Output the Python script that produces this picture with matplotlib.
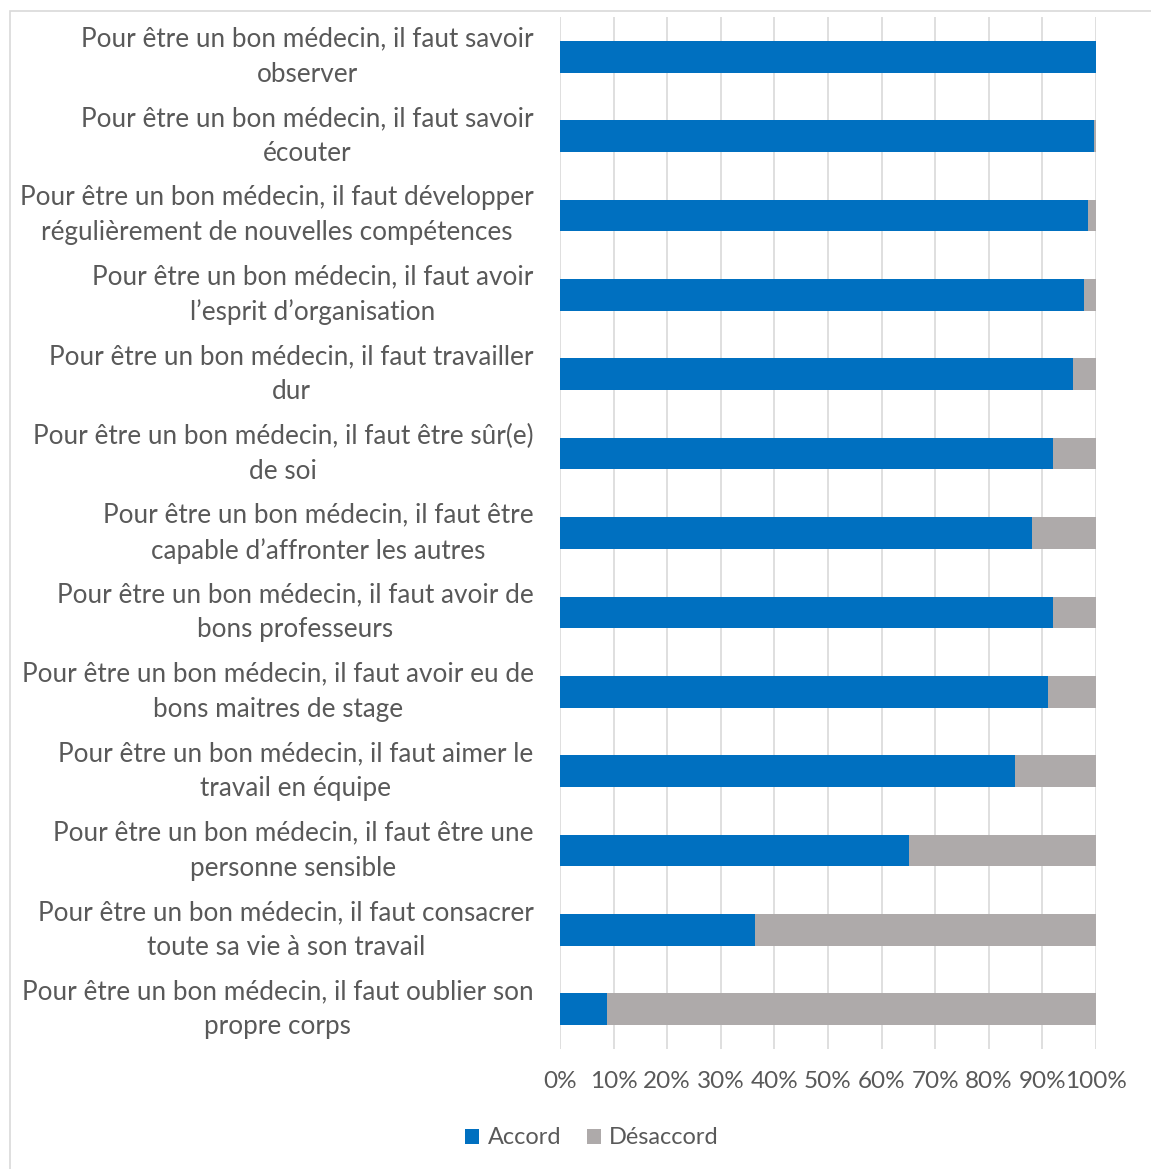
import matplotlib.pyplot as plt
import numpy as np
from matplotlib.patches import Rectangle

plt.rcParams['font.family'] = ['Lato', 'DejaVu Sans']

# statements and share of agreement (%), top to bottom
labels = [
    "Pour être un bon médecin, il faut savoir\nobserver",
    "Pour être un bon médecin, il faut savoir\nécouter",
    "Pour être un bon médecin, il faut développer\nrégulièrement de nouvelles compétences",
    "Pour être un bon médecin, il faut avoir\nl\u2019esprit d\u2019organisation",
    "Pour être un bon médecin, il faut travailler\ndur",
    "Pour être un bon médecin, il faut être sûr(e)\nde soi",
    "Pour être un bon médecin, il faut être\ncapable d\u2019affronter les autres",
    "Pour être un bon médecin, il faut avoir de\nbons professeurs",
    "Pour être un bon médecin, il faut avoir eu de\nbons maitres de stage",
    "Pour être un bon médecin, il faut aimer le\ntravail en équipe",
    "Pour être un bon médecin, il faut être une\npersonne sensible",
    "Pour être un bon médecin, il faut consacrer\ntoute sa vie à son travail",
    "Pour être un bon médecin, il faut oublier son\npropre corps",
]
accord = [100.0, 99.6, 98.5, 97.8, 95.8, 91.9, 88.1, 91.9, 91.1, 84.9, 65.2, 36.3, 8.8]
desaccord = [100 - a for a in accord]

blue = '#0070C0'
grey = '#AEAAAA'
txt = '#595959'

fig = plt.figure(figsize=(11.51, 11.69), dpi=100)
ax = fig.add_axes([560 / 1151, 1 - 1049 / 1169, 536 / 1151, 1032 / 1169])

y = np.arange(len(labels))
ax.barh(y, accord, height=0.4, color=blue, label='Accord', zorder=3)
ax.barh(y, desaccord, left=accord, height=0.4, color=grey, label='Désaccord', zorder=3)

ax.set_xlim(0, 100)
ax.set_ylim(len(labels) - 0.5, -0.5)
ax.set_xticks(np.arange(0, 101, 10))
ax.set_xticklabels([f'{v}%' for v in range(0, 101, 10)], fontsize=17.5)
ax.set_yticks(y)
ax.set_yticklabels(labels, multialignment='center', linespacing=1.5,
                   fontsize=18.8, va='center')
ax.tick_params(axis='both', length=0, colors=txt)
ax.tick_params(axis='y', pad=19)
ax.tick_params(axis='x', pad=16)
ax.xaxis.grid(True, color='#D9D9D9', linewidth=1.2, zorder=0)
for s in ax.spines.values():
    s.set_visible(False)

fig.legend(loc='center', bbox_to_anchor=(592 / 1151, 1 - 1138 / 1169), ncol=2,
           frameon=False, fontsize=16.9, labelcolor=txt, handlelength=0.6,
           handleheight=0.6, handletextpad=0.35, columnspacing=1.1)

# chart area border
fig.patches.append(Rectangle((10 / 1151, -0.01), 1.1, 1 - 11 / 1169 + 0.01,
                             transform=fig.transFigure, fill=False,
                             edgecolor='#D9D9D9', linewidth=1.2))

fig.savefig('out.png', dpi=100)
